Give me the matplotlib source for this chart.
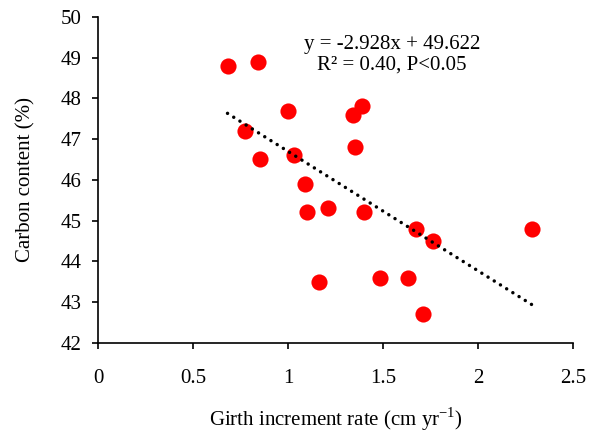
import numpy as np
import matplotlib
matplotlib.use("Agg")
import matplotlib.pyplot as plt

plt.rcParams['font.family'] = ['Liberation Serif', 'DejaVu Serif']
plt.rcParams['mathtext.fontset'] = 'custom'
plt.rcParams['mathtext.rm'] = 'Liberation Serif'

# girth increment rate (cm/yr) vs carbon content (%)
girth = [0.68, 0.84, 1.00, 0.77, 0.85, 1.03, 1.09, 1.10, 1.21, 1.40,
         1.34, 1.39, 1.35, 1.16, 1.48, 1.63, 1.67, 1.76, 1.71, 2.28]
carbon = [48.8, 48.9, 47.7, 47.2, 46.5, 46.6, 45.9, 45.2, 45.3, 45.2,
          47.6, 47.8, 46.8, 43.5, 43.6, 43.6, 44.8, 44.5, 42.7, 44.8]

slope = -2.928
intercept = 49.622

fs = 15

fig = plt.figure(figsize=(5.97, 4.32), dpi=100)
ax = fig.add_axes([0.1647, 0.206, 0.7956, 0.7553])

ax.scatter(girth, carbon, s=135, color='#ff0000', zorder=3, linewidths=0)

# linear trendline over data range
xs = np.array([min(girth), max(girth)])
ax.plot(xs, slope * xs + intercept, color='black', linestyle=(0, (0.01, 2.1)),
        linewidth=2.5, dash_capstyle='round', zorder=4)

ax.text(1.545, 49.07, 'y = -2.928x + 49.622\nR² = 0.40, P<0.05', ha='center',
        va='center', multialignment='center', fontsize=fs, linespacing=1.15)

ax.set_xlim(0, 2.5)
ax.set_ylim(42, 50)
ax.set_xticks([0, 0.5, 1, 1.5, 2, 2.5])
ax.set_xticklabels(['0', '0.5', '1', '1.5', '2', '2.5'])
ax.set_yticks(range(42, 51))

for s in ['top', 'right']:
    ax.spines[s].set_visible(False)
for s in ['left', 'bottom']:
    ax.spines[s].set_linewidth(1.2)

ax.tick_params(axis='x', direction='out', length=4, width=1.2, pad=15, labelsize=fs)
ax.tick_params(axis='y', direction='out', length=4, width=1.2, pad=8, labelsize=fs)

ax.set_xlabel(r'Girth increment rate (cm yr$^{\mathregular{-1}}$)', fontsize=fs, labelpad=12)
ax.set_ylabel('Carbon content (%)', fontsize=fs, labelpad=18)

fig.savefig('out.png', dpi=100)
